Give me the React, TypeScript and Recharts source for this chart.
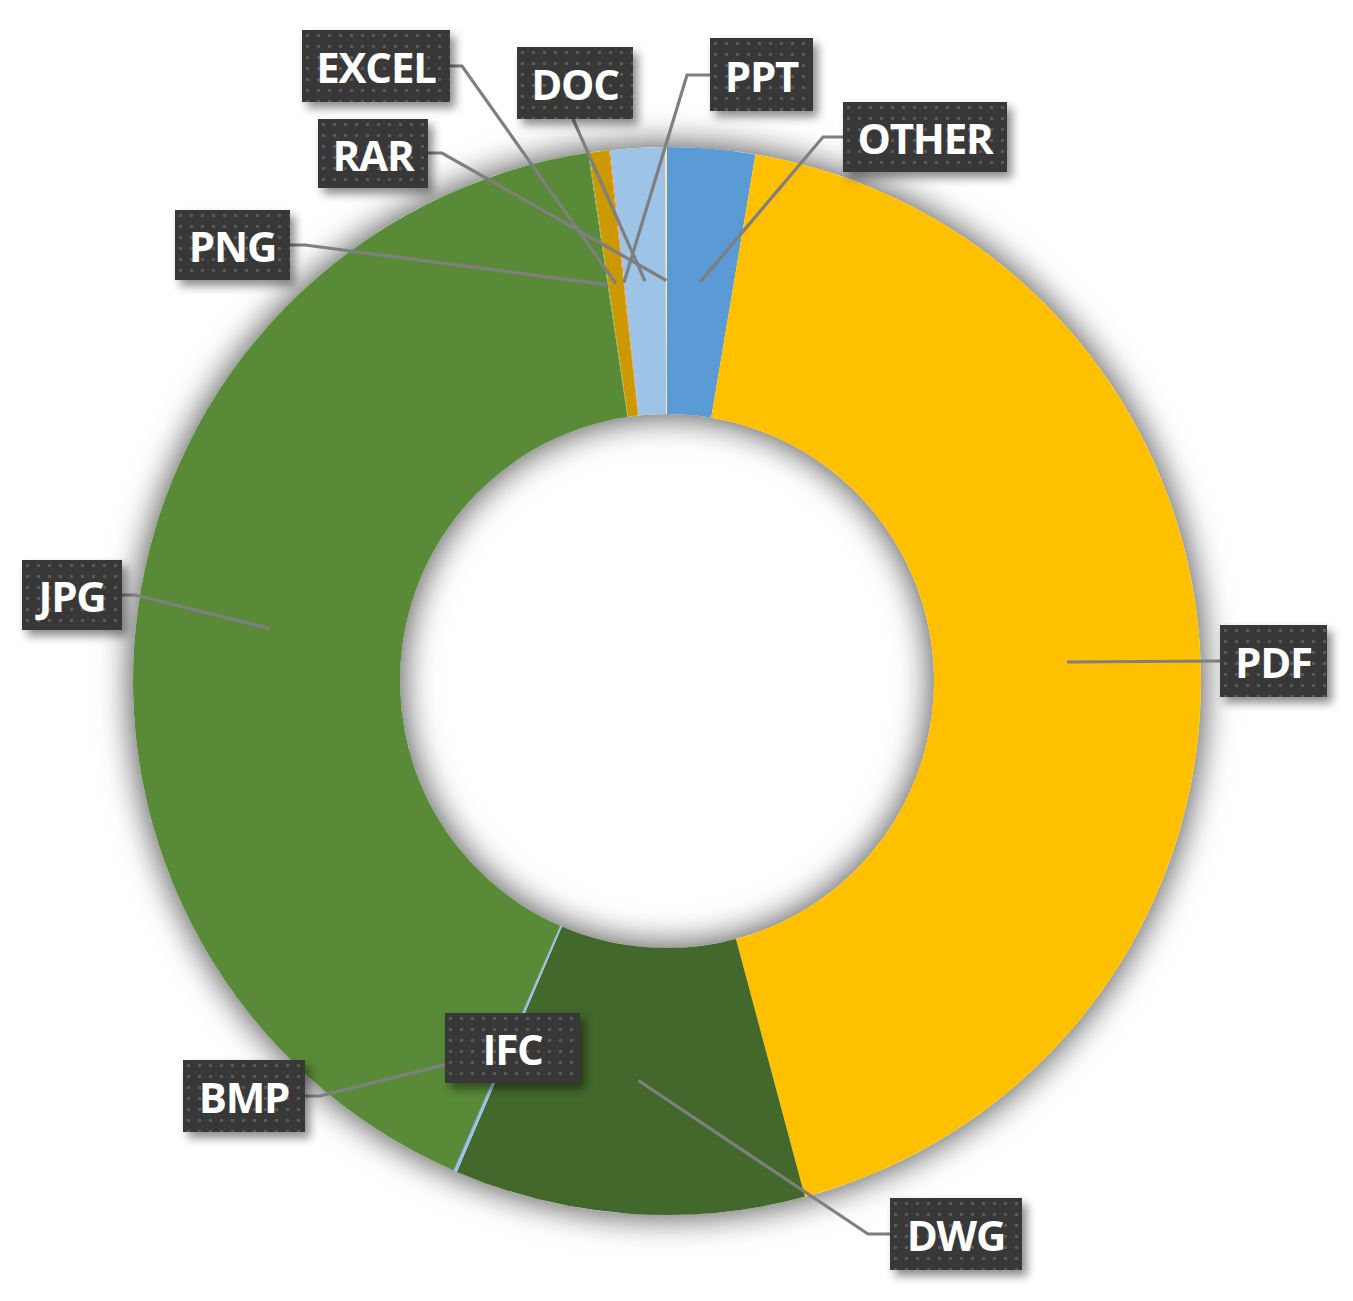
import React from "react";
import { PieChart, Pie, Cell } from "recharts";

// file type shares (%), clockwise from 12 o'clock
const NAMES = ["OTHER", "PDF", "DWG", "BMP", "IFC", "JPG", "PNG", "EXCEL", "PPT", "DOC", "RAR"];
const SHARES = [2.65, 43.2, 10.6, 0.08, 0.03, 41.1, 0.03, 0.6, 0.03, 1.65, 0.05];
const COLORS = ["#5B9BD5", "#FFC000", "#43682B", "#9DC3E6", "#5B9BD5", "#588A38", "#70AD47", "#CC9900", "#ED7D31", "#9DC3E6", "#FFE699"];

const RING = [{ name: "ring", value: 100 }];

const data = NAMES.map((name, i) => ({ name, value: SHARES[i] }));

const RAD = Math.PI / 180;

// hand-placed label boxes (like moved Excel data labels)
type Box = { x: number; y: number; w: number; h: number; ax?: number; ay?: number; ex?: number; ey?: number };
const LABEL_LAYOUT: Record<string, Box> = {
    EXCEL: { x: 302, y: 30, w: 148, h: 72, ax: 450, ay: 66, ex: 462, ey: 66 },
    DOC: { x: 517, y: 47, w: 116, h: 72, ax: 573, ay: 119 },
    PPT: { x: 710, y: 38, w: 103, h: 73, ax: 710, ay: 75, ex: 687, ey: 75 },
    OTHER: { x: 843, y: 102, w: 164, h: 70, ax: 843, ay: 137, ex: 823, ey: 137 },
    RAR: { x: 318, y: 119, w: 110, h: 69, ax: 428, ay: 153, ex: 442, ey: 153 },
    PNG: { x: 175, y: 210, w: 115, h: 70, ax: 290, ay: 245, ex: 305, ey: 245 },
    JPG: { x: 22, y: 560, w: 100, h: 70, ax: 122, ay: 595, ex: 135, ey: 595 },
    PDF: { x: 1220, y: 625, w: 107, h: 72, ax: 1220, ay: 661 },
    DWG: { x: 890, y: 1198, w: 132, h: 72, ax: 890, ay: 1234, ex: 868, ey: 1234 },
    BMP: { x: 183, y: 1060, w: 122, h: 72, ax: 305, ay: 1096, ex: 320, ey: 1096 },
    IFC: { x: 445, y: 1013, w: 135, h: 70 },
};

const renderLabel = (props: any) => {
    const { cx, cy, midAngle, innerRadius, outerRadius, name, index } = props;
    const box = LABEL_LAYOUT[name];
    if (!box) return null;
    const r = (innerRadius + outerRadius) / 2;
    const tx = cx + r * Math.cos(-midAngle * RAD);
    const ty = cy + r * Math.sin(-midAngle * RAD);
    const pts: number[][] = [];
    if (box.ax != null) {
        pts.push([box.ax, box.ay as number]);
        if (box.ex != null) pts.push([box.ex, box.ey as number]);
        pts.push([tx, ty]);
    }
    return (
        <g key={`lbl-${index}`}>
            {pts.length > 0 && (
                <polyline points={pts.map((p) => p.join(",")).join(" ")} fill="none" stroke="#7f7f7f" strokeWidth={3.2} />
            )}
            <defs>
                <pattern id={`dots-${index}`} x={box.x} y={box.y} width={11} height={11} patternUnits="userSpaceOnUse">
                    <rect x={4} y={4} width={3} height={3} fill="#5a5a5a" />
                </pattern>
            </defs>
            <rect x={box.x} y={box.y} width={box.w} height={box.h} fill="#383838"
                style={{ filter: "drop-shadow(5px 6px 5px rgba(0,0,0,0.45))" }} />
            <rect x={box.x} y={box.y} width={box.w} height={box.h} fill={`url(#dots-${index})`} />
            <text x={box.x + box.w / 2} y={box.y + box.h / 2 + 17} textAnchor="middle" fill="#ffffff"
                fontFamily="'Open Sans', sans-serif" fontWeight={700} fontSize={42} letterSpacing={-1.2}>
                {name}
            </text>
        </g>
    );
};

export default function App() {
    return (
        <div style={{ position: "absolute", left: 0, top: 0, width: 1353, height: 1301, background: "#ffffff" }}>
            <style>{`.ring-glow { filter: drop-shadow(0 0 16px rgba(0,0,0,0.4)); }`}</style>
            <PieChart width={1353} height={1301} margin={{ top: 0, right: 0, bottom: 0, left: 0 }}>
                <Pie
                    data={RING}
                    dataKey="value"
                    cx={667}
                    cy={681}
                    innerRadius={267}
                    outerRadius={534}
                    stroke="none"
                    fill="#ffffff"
                    className="ring-glow"
                    isAnimationActive={false}
                    label={false}
                    labelLine={false}
                />
                <Pie
                    data={data}
                    dataKey="value"
                    nameKey="name"
                    cx={667}
                    cy={681}
                    innerRadius={267}
                    outerRadius={534}
                    startAngle={90}
                    endAngle={-270}
                    stroke="none"
                    isAnimationActive={false}
                    label={renderLabel}
                    labelLine={false}
                >
                    {data.map((_, i) => (
                        <Cell key={`cell-${i}`} fill={COLORS[i]} />
                    ))}
                </Pie>
            </PieChart>
        </div>
    );
}
